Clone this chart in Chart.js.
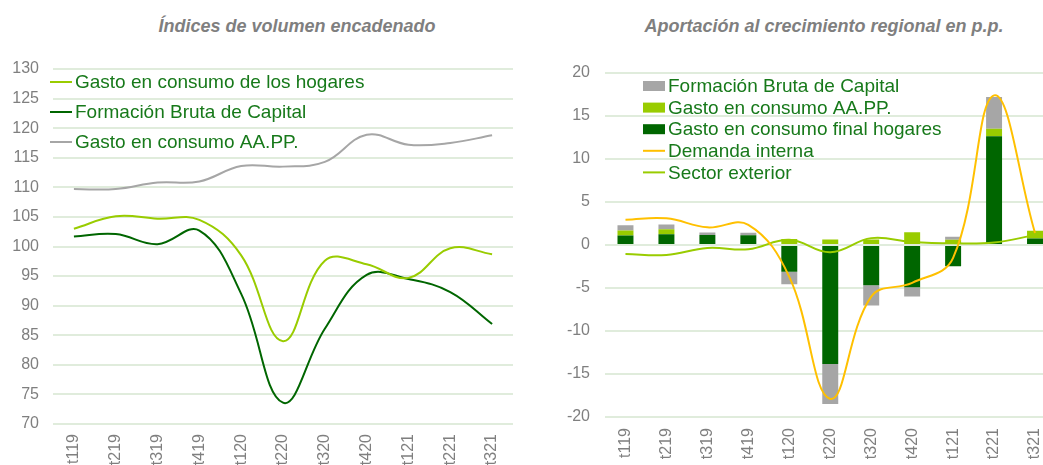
<!DOCTYPE html>
<html lang="es">
<head>
<meta charset="utf-8">
<title>Demanda regional</title>
<script src="https://cdn.jsdelivr.net/npm/chart.js@4.4.1/dist/chart.umd.min.js"></script>
<style>
  html, body { margin: 0; padding: 0; width: 1043px; height: 465px; overflow: hidden; background: #fff; }
  .panel { position: absolute; top: 0; }
  #leftPanel { left: 0; }
  #rightPanel { left: 520px; }
  .title {
    position: absolute; top: 16px; white-space: nowrap; transform: translateX(-50%);
    font: italic bold 18px "Liberation Sans", Arial, sans-serif; color: #7f7f7f;
  }
</style>
</head>
<body>
<div class="title" style="left:297px">Índices de volumen encadenado</div>
<div class="title" style="left:824px">Aportación al crecimiento regional en p.p.</div>
<div class="panel" id="leftPanel"><canvas id="indexChart" width="520" height="465"></canvas></div>
<div class="panel" id="rightPanel"><canvas id="contribChart" width="540" height="465"></canvas></div>
<script>
// Quarters
const quarters = ['t119', 't219', 't319', 't419', 't120', 't220', 't320', 't420', 't121', 't221', 't321'];

// Left: chained volume indices
const consumoHogares = [103.0, 105.1, 104.7, 104.5, 98.5, 84.0, 97.6, 97.0, 94.7, 99.7, 98.7];
const formacionCapital = [101.7, 102.1, 100.4, 102.7, 92.0, 73.6, 86.1, 95.2, 94.5, 92.3, 86.9];
const consumoAAPP = [109.7, 109.7, 110.8, 111.0, 113.6, 113.5, 114.3, 118.9, 117.2, 117.5, 118.8];

// Right: contributions to regional growth (p.p.)
const aportHogares = [1.1, 1.25, 1.15, 1.13, -3.1, -13.85, -4.67, -4.9, -2.47, 12.65, 0.75];
const aportAAPP = [0.6, 0.57, 0, 0, 0.7, 0.64, 0.64, 1.47, 0.6, 0.88, 0.9];
const aportFBC = [0.6, 0.56, 0.3, 0.3, -1.45, -4.65, -2.36, -1.1, 0.37, 3.67, 0];
const demandaInterna = [2.95, 3.1, 2.05, 2.35, -3.7, -17.9, -6.0, -4.4, -1.5, 17.4, 1.4];
const sectorExterior = [-1.05, -1.15, -0.35, -0.5, 0.6, -0.85, 0.8, 0.35, 0.2, 0.3, 1.15];

const FONT = '"Liberation Sans", Arial, sans-serif';
const TICK_COLOR = '#7f7f7f';
const GRID_COLOR = '#e0ecdc';
const LEGEND_COLOR = '#17791a';
const LIGHT_GREEN = '#99cc00';
const DARK_GREEN = '#006600';
const GREY = '#a6a6a6';
const ORANGE = '#ffc000';

// Legend drawn inside the plot, items listed in the given order
const insideLegend = {
  id: 'insideLegend',
  afterDraw(chart, args, opts) {
    const ctx = chart.ctx;
    ctx.save();
    ctx.font = '19px ' + FONT;
    ctx.textBaseline = 'middle';
    opts.items.forEach((idx, i) => {
      const ds = chart.data.datasets[idx];
      const y = opts.y + i * opts.spacing;
      if (chart.getDatasetMeta(idx).type === 'bar') {
        ctx.fillStyle = ds.backgroundColor;
        ctx.fillRect(opts.x, y - 5, 22, 10);
      } else {
        ctx.strokeStyle = ds.borderColor;
        ctx.lineWidth = 2;
        ctx.beginPath();
        ctx.moveTo(opts.x, y);
        ctx.lineTo(opts.x + 22, y);
        ctx.stroke();
      }
      ctx.fillStyle = LEGEND_COLOR;
      ctx.fillText(ds.label, opts.x + 25, y + 1);
    });
    ctx.restore();
  }
};

function tickFont() {
  return { family: FONT, size: 16 };
}

new Chart(document.getElementById('indexChart'), {
  type: 'line',
  data: {
    labels: quarters,
    datasets: [
      { label: 'Gasto en consumo de los hogares', data: consumoHogares, borderColor: LIGHT_GREEN },
      { label: 'Formación Bruta de Capital', data: formacionCapital, borderColor: DARK_GREEN },
      { label: 'Gasto en consumo AA.PP.', data: consumoAAPP, borderColor: GREY }
    ]
  },
  options: {
    responsive: false,
    animation: false,
    layout: { padding: { top: 69, right: 7 } },
    elements: {
      line: { borderWidth: 2, tension: 0.4 },
      point: { radius: 0 }
    },
    scales: {
      x: {
        offset: true,
        grid: { display: false },
        border: { display: false },
        ticks: { autoSkip: false, maxRotation: 90, minRotation: 90, padding: 2, color: TICK_COLOR, font: tickFont() },
        afterFit: (scale) => { scale.height = 41; }
      },
      y: {
        min: 70,
        max: 130,
        ticks: { stepSize: 5, padding: 14, color: TICK_COLOR, font: tickFont() },
        grid: { color: GRID_COLOR, lineWidth: 2, drawTicks: false },
        border: { display: false },
        afterFit: (scale) => { scale.width = 53; }
      }
    },
    plugins: {
      legend: { display: false },
      tooltip: { enabled: false },
      insideLegend: { x: 50, y: 82, spacing: 30, items: [0, 1, 2] }
    }
  },
  plugins: [insideLegend]
});

new Chart(document.getElementById('contribChart'), {
  type: 'bar',
  data: {
    labels: quarters,
    datasets: [
      { type: 'line', label: 'Demanda interna', data: demandaInterna, borderColor: ORANGE, stack: 'demanda', order: 1 },
      { type: 'line', label: 'Sector exterior', data: sectorExterior, borderColor: LIGHT_GREEN, stack: 'exterior', order: 1 },
      { label: 'Gasto en consumo final hogares', data: aportHogares, backgroundColor: DARK_GREEN, stack: 'comp', order: 2 },
      { label: 'Gasto en consumo AA.PP.', data: aportAAPP, backgroundColor: LIGHT_GREEN, stack: 'comp', order: 2 },
      { label: 'Formación Bruta de Capital', data: aportFBC, backgroundColor: GREY, stack: 'comp', order: 2 }
    ]
  },
  options: {
    responsive: false,
    animation: false,
    layout: { padding: { top: 73, right: 4.5 } },
    elements: {
      line: { borderWidth: 2, tension: 0.4 },
      point: { radius: 0 },
      bar: { borderWidth: 0 }
    },
    datasets: {
      bar: { categoryPercentage: 1, barPercentage: 0.39 }
    },
    scales: {
      x: {
        stacked: true,
        offset: true,
        grid: { display: false },
        border: { display: false },
        ticks: { autoSkip: false, maxRotation: 90, minRotation: 90, padding: 3, color: TICK_COLOR, font: tickFont() },
        afterFit: (scale) => { scale.height = 48; }
      },
      y: {
        stacked: true,
        min: -20,
        max: 20,
        ticks: { stepSize: 5, padding: 15, color: TICK_COLOR, font: tickFont() },
        grid: { color: GRID_COLOR, lineWidth: 2, drawTicks: false },
        border: { display: false },
        afterFit: (scale) => { scale.width = 85; }
      }
    },
    plugins: {
      legend: { display: false },
      tooltip: { enabled: false },
      insideLegend: { x: 123, y: 86, spacing: 21.6, items: [4, 3, 2, 0, 1] }
    }
  },
  plugins: [insideLegend]
});
</script>
</body>
</html>
